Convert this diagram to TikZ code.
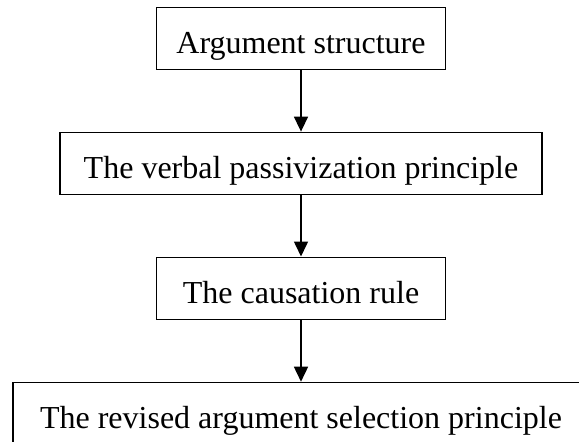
\documentclass[tikz,border=0pt]{standalone}
\usepackage{fontspec}
\setmainfont{Liberation Serif}
\usetikzlibrary{arrows.meta}
\begin{document}
\begin{tikzpicture}[x=1pt, y=-1pt,
  stagebox/.style={draw=black, line width=1.6pt, inner sep=0pt,
    minimum height=62pt, text height=30pt, text depth=0pt,
    font=\fontsize{32}{38}\selectfont},
  flow/.style={line width=1.6pt, -{Triangle[length=15pt,width=14pt]}}]
  \useasboundingbox (0,0) rectangle (579,442);
  % four stages of the analysis, top to bottom
  \node[stagebox, minimum width=289pt] (arg) at (301,38.3) {Argument structure};
  \node[stagebox, minimum width=482pt] (pass) at (301,163.4) {The verbal passivization principle};
  \node[stagebox, minimum width=289pt] (caus) at (301,288.3) {The causation rule};
  \node[stagebox, minimum width=576pt] (sel) at (301,413.5) {The revised argument selection principle};
  % connecting arrows
  \draw[flow] (arg) -- (pass);
  \draw[flow] (pass) -- (caus);
  \draw[flow] (caus) -- (sel);
\end{tikzpicture}
\end{document}
